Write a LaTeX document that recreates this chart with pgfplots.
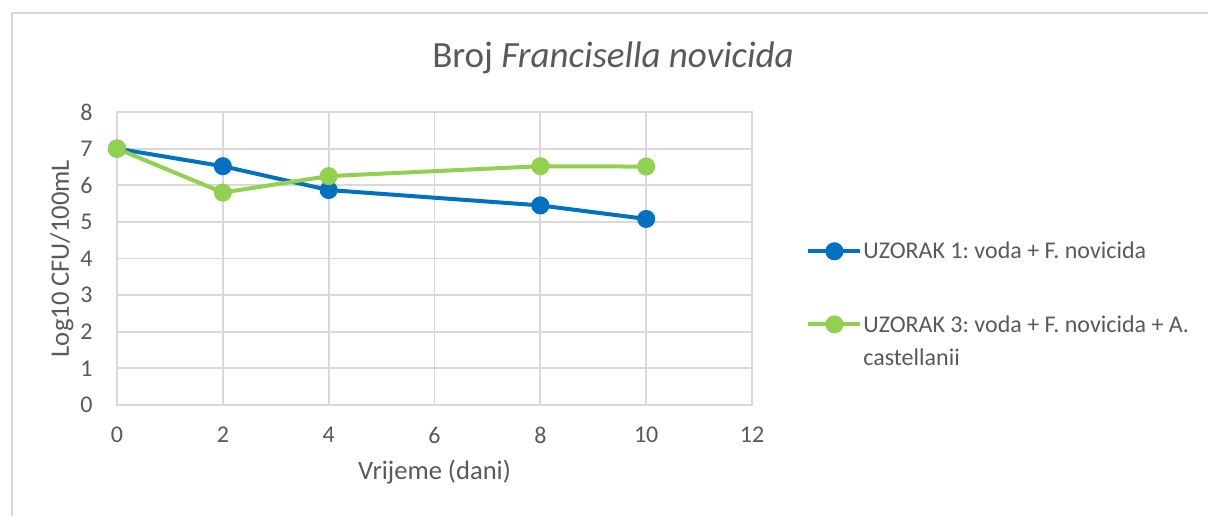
\documentclass[border=0pt]{standalone}
\usepackage{pgfplots}
\pgfplotsset{compat=1.18}
\usepackage{fontspec}
\setmainfont{Carlito}
\frenchspacing
\definecolor{txt}{HTML}{595959}
\definecolor{gridc}{HTML}{D9D9D9}
\definecolor{ublue}{HTML}{0070C0}
\definecolor{ugreen}{HTML}{92D050}
\begin{document}
\begin{tikzpicture}
\path[use as bounding box] (0,0) rectangle (604pt,258pt);
\draw[gridc, line width=0.8pt] (6pt,0) -- (6pt,251.5pt) -- (604pt,251.5pt);
\node[txt, font=\fontsize{18.5}{22}\selectfont] at (306.5pt,229pt) {Broj \textit{Francisella novicida}};
\begin{axis}[
  at={(58.5pt,55.5pt)}, anchor=south west,
  scale only axis, width=317.5pt, height=146.5pt,
  xmin=0, xmax=12, ymin=0, ymax=8,
  xtick={0,2,4,6,8,10,12}, ytick={0,1,2,3,4,5,6,7,8},
  grid=major,
  major grid style={gridc, line width=0.9pt},
  axis line style={gridc, line width=0.9pt},
  major tick length=0pt,
  /pgf/number format/assume math mode=true,
  tick label style={txt, font=\fontsize{12}{14}\selectfont},
  yticklabel style={inner sep=0pt, anchor=east, xshift=-12pt},
  xticklabel style={inner sep=0pt, anchor=north, yshift=-11pt},
  xlabel={Vrijeme (dani)}, ylabel={Log10 CFU/100mL},
  label style={txt, font=\fontsize{13.3}{16}\selectfont},
  xlabel style={at={(axis description cs:0.5,-0.229)}, anchor=center},
  ylabel style={at={(axis description cs:-0.0866,0.5)}, anchor=center, rotate=0},
  legend cell align=left,
  legend style={at={(1.085,0.563)}, anchor=north west, draw=none, fill=none,
    inner sep=0pt, row sep=25pt, column sep=0pt, text=txt,
    font=\fontsize{12}{14}\selectfont,
    nodes={inner sep=0.5pt}},
  legend image code/.code={\draw[mark repeat=2,mark phase=2,#1] plot coordinates {(0pt,0pt) (13pt,0pt) (26pt,0pt)};},
  every axis plot/.append style={line width=2pt, mark=*, mark size=3.5pt, mark options={solid}},
]
\addplot[ublue, mark options={fill=ublue, draw=ublue}] coordinates {(0,7.0) (2,6.52) (4,5.87) (8,5.45) (10,5.08)};
\addlegendentry{UZORAK 1: voda + F. novicida}
\addplot[ugreen, mark options={fill=ugreen, draw=ugreen}] coordinates {(0,7.0) (2,5.80) (4,6.25) (8,6.52) (10,6.51)};
\addlegendentry{\begin{tabular}[t]{@{}l@{}}UZORAK 3: voda + F. novicida + A.\\[2.5pt]castellanii\end{tabular}}
\end{axis}
\end{tikzpicture}
\end{document}
